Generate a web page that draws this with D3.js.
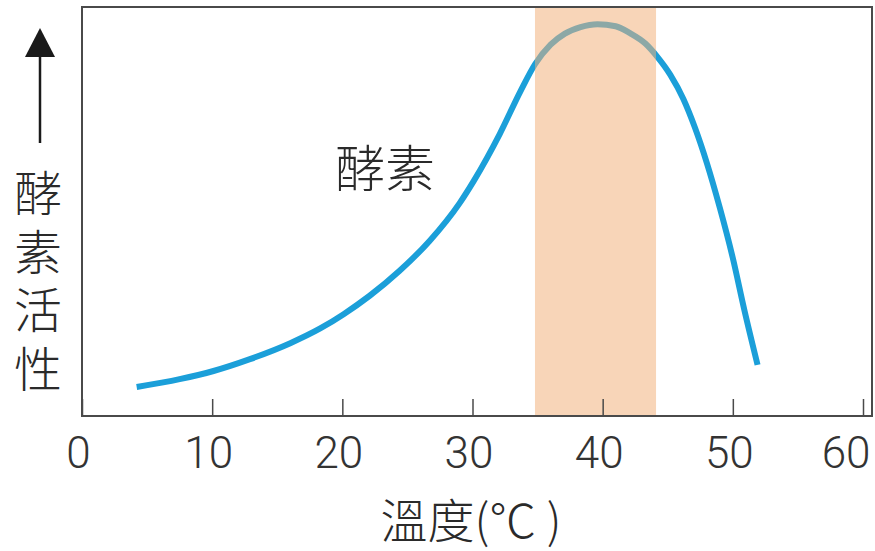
<!DOCTYPE html>
<html>
<head>
<meta charset="utf-8">
<script src="https://cdn.jsdelivr.net/npm/d3@7"></script>
<style>
  html, body { margin: 0; padding: 0; background: #fff; }
  svg { display: block; }
</style>
</head>
<body>
<svg id="chart" width="875" height="551"></svg>
<script>
// ---- data ----
const temperature = [4.2, 7.5, 10.1, 12.9, 16.0, 18.3, 20.1, 22.1, 24.4, 26.7, 29.0, 30.1, 32.1, 33.7, 34.8, 36.0, 37.1, 38.3, 39.6, 41.0, 42.1, 43.3, 44.2, 45.2, 46.2, 47.1, 48.0, 49.0, 50.0, 50.9, 51.9];
const activity    = [7.1, 9.0, 11.0, 13.9, 17.8, 21.4, 24.9, 29.4, 35.5, 42.8, 52.0, 57.5, 69.0, 79.5, 86.0, 90.8, 93.5, 95.1, 95.8, 95.3, 93.6, 91.0, 87.8, 83.4, 77.5, 70.4, 61.9, 50.9, 38.6, 25.7, 12.5];
const xTicks = [0, 10, 20, 30, 40, 50, 60];
const optimalRange = [34.8, 44.1];
const xTitle = "溫度(℃ )";
const yTitle = "酵素活性";
const curveLabel = "酵素";

// ---- layout ----
const svg = d3.select("#chart");
const plotLeft = 82, plotRight = 863, frameRight = 872, plotTop = 7, plotBottom = 416;

const x = d3.scaleLinear().domain([0, 60]).range([plotLeft, plotRight]);
const y = d3.scaleLinear().domain([0, 100]).range([plotBottom, plotTop]);

const latin = "Roboto, 'Liberation Sans', 'Noto Sans', sans-serif";
const cjk = "'Noto Sans CJK TC', 'Noto Sans CJK SC', sans-serif";

const points = temperature.map((t, i) => [t, activity[i]]);
const line = d3.line()
  .x(d => x(d[0]))
  .y(d => y(d[1]))
  .curve(d3.curveMonotoneX);

svg.append("path")
  .datum(points)
  .attr("d", line)
  .attr("fill", "none")
  .attr("stroke", "#1b9fd9")
  .attr("stroke-width", 6)
  .attr("stroke-linecap", "butt");

// optimal range band (semi-transparent, over the curve)
svg.append("rect")
  .attr("x", x(optimalRange[0]))
  .attr("y", plotTop)
  .attr("width", x(optimalRange[1]) - x(optimalRange[0]))
  .attr("height", plotBottom - plotTop)
  .attr("fill", "rgb(241,175,121)")
  .attr("fill-opacity", 0.53);

// frame
svg.append("rect")
  .attr("x", plotLeft).attr("y", plotTop)
  .attr("width", frameRight - plotLeft).attr("height", plotBottom - plotTop)
  .attr("fill", "none")
  .attr("stroke", "#4a4a4a")
  .attr("stroke-width", 2);

// x axis ticks (inward) and labels
const xAxis = d3.axisBottom(x)
  .tickValues(xTicks)
  .tickSizeInner(-17)
  .tickSizeOuter(0)
  .tickFormat(d3.format("d"));

const gx = svg.append("g")
  .attr("transform", `translate(0,${plotBottom})`)
  .call(xAxis);
gx.select(".domain").remove();
gx.selectAll(".tick line").attr("stroke", "#4a4a4a").attr("stroke-width", 1.5);
gx.selectAll(".tick text")
  .attr("y", 0)
  .attr("dy", 0)
  .attr("transform", "translate(-4,52)")
  .attr("fill", "#333")
  .style("font-family", latin)
  .style("font-weight", 300)
  .style("font-size", "44px");
gx.selectAll(".tick text")
  .filter(d => d === xTicks[xTicks.length - 1])
  .attr("text-anchor", "end")
  .attr("transform", "translate(7,52)");

// x title
svg.append("text")
  .attr("x", 471).attr("y", 538)
  .attr("text-anchor", "middle")
  .attr("fill", "#2a2a2a")
  .style("font-family", cjk)
  .style("font-weight", 300)
  .style("font-size", "47px")
  .text(xTitle);

// curve label
svg.append("text")
  .attr("x", 385).attr("y", 187)
  .attr("text-anchor", "middle")
  .attr("fill", "#2a2a2a")
  .style("font-family", cjk)
  .style("font-weight", 300)
  .style("font-size", "50px")
  .text(curveLabel);

// y title, vertical text
svg.append("text")
  .attr("x", 38)
  .attr("y", 169)
  .attr("fill", "#2a2a2a")
  .style("writing-mode", "vertical-rl")
  .style("text-orientation", "upright")
  .style("letter-spacing", "10.5px")
  .style("font-family", cjk)
  .style("font-weight", 300)
  .style("font-size", "48px")
  .text(yTitle);

// arrow
svg.append("line")
  .attr("x1", 40).attr("x2", 40)
  .attr("y1", 55).attr("y2", 143)
  .attr("stroke", "#1a1a1a")
  .attr("stroke-width", 2.5);
svg.append("path")
  .attr("d", d3.line()([[40, 28], [55, 57], [25, 57]]) + "Z")
  .attr("fill", "#1a1a1a");
</script>
</body>
</html>
